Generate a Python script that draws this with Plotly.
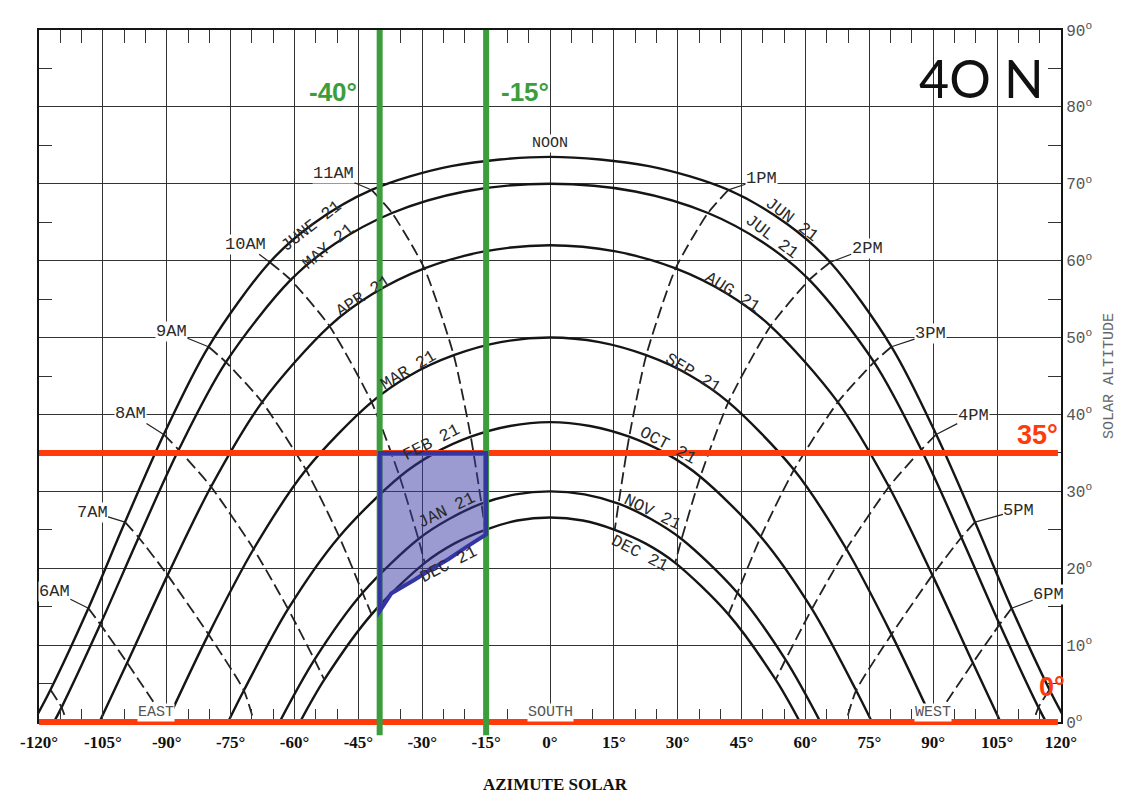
import plotly.graph_objects as go

# Sun path diagram, latitude 40 N (azimuth from south, degrees / solar altitude, degrees)

jun_az = [-121.3, -117.3, -108.4, -99.8, -90.7, -80.2, -65.8, -55.6, -41.9, -23.2, 0,
          23.2, 41.9, 55.6, 65.8, 80.2, 90.7, 99.8, 108.4, 117.3, 121.3]
jun_alt = [0, 4.2, 14.8, 26.0, 37.4, 48.8, 59.8, 64.8, 69.2, 72.3, 73.5,
           72.3, 69.2, 64.8, 59.8, 48.8, 37.4, 26.0, 14.8, 4.2, 0]

may_az = [-116.5, -114.7, -105.6, -96.6, -87.2, -76.1, -60.9, -50.5, -37.1, -20.0, 0,
          20.0, 37.1, 50.5, 60.9, 76.1, 87.2, 96.6, 105.6, 114.7, 116.5]
may_alt = [0, 1.9, 12.7, 24.0, 35.4, 46.8, 57.5, 62.2, 66.2, 69.0, 70.0,
           69.0, 66.2, 62.2, 57.5, 46.8, 35.4, 24.0, 12.7, 1.9, 0]

apr_az = [-105.8, -99.3, -89.8, -79.6, -67.6, -51.8, -41.6, -29.5, -15.4, 0,
          15.4, 29.5, 41.6, 51.8, 67.6, 79.6, 89.8, 99.3, 105.8]
apr_alt = [0, 7.7, 19.1, 30.6, 41.6, 51.5, 55.7, 59.0, 61.2, 62.0,
           61.2, 59.0, 55.7, 51.5, 41.6, 30.6, 19.1, 7.7, 0]

mar_az = [-90.0, -80.2, -69.6, -57.3, -41.9, -32.8, -22.6, -11.6, 0,
          11.6, 22.6, 32.8, 41.9, 57.3, 69.6, 80.2, 90.0]
mar_alt = [0, 11.4, 22.5, 32.8, 41.6, 45.1, 47.7, 49.4, 50.0,
           49.4, 47.7, 45.1, 41.6, 32.8, 22.5, 11.4, 0]

feb_az = [-75.6, -71.9, -61.5, -49.5, -35.3, -27.3, -18.6, -9.4, 0,
          9.4, 18.6, 27.3, 35.3, 49.5, 61.5, 71.9, 75.6]
feb_alt = [0, 4.1, 14.7, 24.1, 31.9, 34.9, 37.1, 38.5, 39.0,
           38.5, 37.1, 34.9, 31.9, 24.1, 14.7, 4.1, 0]

jan_az = [-63.5, -55.3, -44.0, -30.9, -23.7, -16.1, -8.1, 0,
          8.1, 16.1, 23.7, 30.9, 44.0, 55.3, 63.5]
jan_alt = [0, 8.1, 16.8, 23.8, 26.4, 28.4, 29.6, 30.0,
           29.6, 28.4, 26.4, 23.8, 16.8, 8.1, 0]

dec_az = [-58.7, -53.0, -41.9, -29.4, -22.5, -15.2, -7.7, 0,
          7.7, 15.2, 22.5, 29.4, 41.9, 53.0, 58.7]
dec_alt = [0, 5.5, 14.0, 20.7, 23.2, 25.0, 26.2, 26.6,
           26.2, 25.0, 23.2, 20.7, 14.0, 5.5, 0]

# hour lines (June -> December)
h5am_az = [-117.3, -114.7, -113.5]
h5am_alt = [4.2, 1.9, 0]
h6am_az = [-108.4, -105.6, -99.3, -90.0]
h6am_alt = [14.8, 12.7, 7.7, 0]
h7am_az = [-99.8, -96.6, -89.8, -80.2, -71.9, -69.5]
h7am_alt = [26.0, 24.0, 19.1, 11.4, 4.1, 0]
h8am_az = [-90.7, -87.2, -79.6, -69.6, -61.5, -55.3, -53.0]
h8am_alt = [37.4, 35.4, 30.6, 22.5, 14.7, 8.1, 5.5]
h9am_az = [-80.2, -76.1, -67.6, -57.3, -49.5, -44.0, -41.9]
h9am_alt = [48.8, 46.8, 41.6, 32.8, 24.1, 16.8, 14.0]
h10am_az = [-65.8, -60.9, -51.8, -41.9, -35.3, -30.9, -29.4]
h10am_alt = [59.8, 57.5, 51.5, 41.6, 31.9, 23.8, 20.7]
h11am_az = [-41.9, -37.1, -29.5, -22.6, -18.6, -16.1, -15.2]
h11am_alt = [69.2, 66.2, 59.0, 47.7, 37.1, 28.4, 25.0]
h1pm_az = [41.9, 37.1, 29.5, 22.6, 18.6, 16.1, 15.2]
h1pm_alt = [69.2, 66.2, 59.0, 47.7, 37.1, 28.4, 25.0]
h2pm_az = [65.8, 60.9, 51.8, 41.9, 35.3, 30.9, 29.4]
h2pm_alt = [59.8, 57.5, 51.5, 41.6, 31.9, 23.8, 20.7]
h3pm_az = [80.2, 76.1, 67.6, 57.3, 49.5, 44.0, 41.9]
h3pm_alt = [48.8, 46.8, 41.6, 32.8, 24.1, 16.8, 14.0]
h4pm_az = [90.7, 87.2, 79.6, 69.6, 61.5, 55.3, 53.0]
h4pm_alt = [37.4, 35.4, 30.6, 22.5, 14.7, 8.1, 5.5]
h5pm_az = [99.8, 96.6, 89.8, 80.2, 71.9, 69.5]
h5pm_alt = [26.0, 24.0, 19.1, 11.4, 4.1, 0]
h6pm_az = [108.4, 105.6, 99.3, 90.0]
h6pm_alt = [14.8, 12.7, 7.7, 0]
h7pm_az = [117.3, 114.7, 113.5]
h7pm_alt = [4.2, 1.9, 0]

# shading window
green_az = [-40, -15]
red_alt = [35, 0]
poly_az = [-40, -15, -15, -19.5, -23.8, -27.8, -31.8, -37.3, -40]
poly_alt = [35, 35, 24.4, 22.8, 21.2, 19.9, 18.5, 16.7, 14.4]

x_ticks = list(range(-120, 121, 15))
y_ticks = list(range(0, 91, 10))
y_range = [0, 90]

MONO = "Liberation Mono, Courier New, monospace"
SERIF = "Liberation Serif, Times New Roman, serif"
SANS = "Liberation Sans, Arial, sans-serif"
INK = "#151515"
GREEN = "#3c9d3c"
RED = "#ff3b0c"

fig = go.Figure()

date_curves = [(jun_az, jun_alt), (may_az, may_alt), (apr_az, apr_alt), (mar_az, mar_alt),
               (feb_az, feb_alt), (jan_az, jan_alt), (dec_az, dec_alt)]
for az, alt in date_curves:
    fig.add_trace(go.Scatter(x=az, y=alt, mode="lines", hoverinfo="skip", showlegend=False,
                             line=dict(color=INK, width=2.4, shape="spline", smoothing=0.9)))

hour_lines = [(h5am_az, h5am_alt), (h6am_az, h6am_alt), (h7am_az, h7am_alt), (h8am_az, h8am_alt),
              (h9am_az, h9am_alt), (h10am_az, h10am_alt), (h11am_az, h11am_alt),
              (h1pm_az, h1pm_alt), (h2pm_az, h2pm_alt), (h3pm_az, h3pm_alt), (h4pm_az, h4pm_alt),
              (h5pm_az, h5pm_alt), (h6pm_az, h6pm_alt), (h7pm_az, h7pm_alt)]
for az, alt in hour_lines:
    fig.add_trace(go.Scatter(x=az, y=alt, mode="lines", hoverinfo="skip", showlegend=False,
                             line=dict(color="#222", width=1.8, dash="12px,5px",
                                       shape="spline", smoothing=0.6)))

# hour labels with short leaders to the June curve
hour_labels = [("6AM", h6am_az, h6am_alt, -34, -17), ("7AM", h7am_az, h7am_alt, -33, -10),
               ("8AM", h8am_az, h8am_alt, -33, -21), ("9AM", h9am_az, h9am_alt, -37, -15),
               ("10AM", h10am_az, h10am_alt, -24, -18), ("11AM", h11am_az, h11am_alt, -38, -16),
               ("1PM", h1pm_az, h1pm_alt, 33, -11), ("2PM", h2pm_az, h2pm_alt, 37, -14),
               ("3PM", h3pm_az, h3pm_alt, 39, -13), ("4PM", h4pm_az, h4pm_alt, 37, -19),
               ("5PM", h5pm_az, h5pm_alt, 44, -12), ("6PM", h6pm_az, h6pm_alt, 37, -14)]
for text, az, alt, dx, dy in hour_labels:
    fig.add_annotation(x=az[0], y=alt[0], ax=dx, ay=dy, text=text, showarrow=True,
                       arrowhead=0, arrowwidth=1.2, arrowcolor="#222", standoff=0,
                       bgcolor="white", borderpad=0,
                       font=dict(family=MONO, size=17, color="#2a2a2a"))

# date labels along the curves
date_labels = [("JUNE 21", -56.1, 64.4, -38), ("MAY 21", -52.0, 61.8, -40),
               ("APR 21", -43.9, 55.3, -33), ("MAR 21", -33.3, 45.7, -31),
               ("FEB 21", -27.8, 36.3, -27), ("JAN 21", -24.3, 27.5, -26),
               ("DEC 21", -23.8, 20.5, -27),
               ("JUN 21", 56.6, 65.3, 37), ("JUL 21", 51.9, 63.1, 37),
               ("AUG 21", 42.9, 55.9, 32), ("SEP 21", 33.5, 45.3, 31),
               ("OCT 21", 27.6, 35.9, 28), ("NOV 21", 24.1, 27.3, 26),
               ("DEC 21", 21.0, 21.9, 27)]
for text, az, alt, ang in date_labels:
    fig.add_annotation(x=az, y=alt, text=text, showarrow=False, textangle=ang,
                       font=dict(family=MONO, size=17, color="#2a2a2a"))

for text, az in [("EAST", -92.5), ("SOUTH", 0), ("WEST", 90)]:
    fig.add_annotation(x=az, y=1.2, text=text, showarrow=False, bgcolor="white", borderpad=0,
                       font=dict(family=MONO, size=15, color="#555"))
fig.add_annotation(x=0, y=75.3, text="NOON", showarrow=False, bgcolor="white", borderpad=0,
                   font=dict(family=MONO, size=15, color="#2a2a2a"))

# red altitude limits (paper position so the line at 0 is not clipped), green azimuth limits
for a in red_alt:
    yp = (a - y_range[0]) / (y_range[1] - y_range[0])
    fig.add_shape(type="line", xref="paper", yref="paper", x0=0, x1=0.997, y0=yp, y1=yp,
                  line=dict(color=RED, width=6), layer="above")
for a in green_az:
    fig.add_shape(type="line", xref="x", yref="paper", x0=a, x1=a, y0=-0.019, y1=1,
                  line=dict(color=GREEN, width=6), layer="above")
path = "M " + " L ".join(f"{x},{y}" for x, y in zip(poly_az, poly_alt)) + " Z"
fig.add_shape(type="path", xref="x", yref="y", path=path, layer="above",
              fillcolor="rgba(55,55,165,0.5)", line=dict(color="#3434a2", width=4))

fig.add_annotation(x=-50.9, y=82.0, text="-40°", showarrow=False,
                   font=dict(family=SANS, size=26, color=GREEN, weight="bold"))
fig.add_annotation(x=-5.9, y=82.0, text="-15°", showarrow=False,
                   font=dict(family=SANS, size=26, color=GREEN, weight="bold"))
fig.add_annotation(x=114.4, y=37.3, text="35°", showarrow=False,
                   font=dict(family=SANS, size=27, color=RED, weight="bold"))
fig.add_annotation(x=117.9, y=4.5, text="0°", showarrow=False,
                   font=dict(family=SANS, size=27, color=RED, weight="bold"))

fig.add_annotation(xref="paper", yref="paper", x=0.922, y=0.93, xanchor="center",
                   yanchor="middle", text="4O N", showarrow=False,
                   font=dict(family="Lato, Noto Sans, sans-serif", size=52, color="#111"))
fig.add_annotation(xref="paper", yref="paper", x=0.505, y=-0.09, xanchor="center",
                   yanchor="middle", text="AZIMUTE SOLAR", showarrow=False,
                   font=dict(family=SERIF, size=17, color="#111", weight="bold"))
fig.add_annotation(xref="paper", yref="paper", x=1.047, y=0.5, xanchor="center",
                   yanchor="middle", text="SOLAR ALTITUDE", showarrow=False, textangle=-90,
                   font=dict(family=MONO, size=15, color="#666"))

# the page body adds an 8px margin, so the figure is 16px smaller than the window
fig.update_layout(
    width=1117, height=788, autosize=False,
    margin=dict(l=31, r=64, t=15, b=74),
    paper_bgcolor="white", plot_bgcolor="white",
    showlegend=False,
    xaxis=dict(range=[-120, 120], tickvals=x_ticks, ticktext=[f"{v}°" for v in x_ticks],
               tickfont=dict(family=SERIF, size=17, color="#111", weight="bold"),
               ticklabelstandoff=4,
               showgrid=True, gridcolor="#333", gridwidth=1.2, zeroline=False,
               showline=True, linecolor=INK, linewidth=2, mirror="allticks",
               ticks="inside", ticklen=13, tickcolor="#333",
               minor=dict(tickmode="linear", tick0=0, dtick=5, ticks="inside", ticklen=13,
                          tickcolor="#333", tickwidth=1.4, showgrid=False)),
    yaxis=dict(range=y_range, side="right", tickvals=y_ticks,
               ticktext=[f"{v}<sup>o</sup>" for v in y_ticks],
               tickfont=dict(family=MONO, size=16, color="#555"),
               showgrid=True, gridcolor="#333", gridwidth=1.2, zeroline=False,
               showline=True, linecolor=INK, linewidth=2, mirror="allticks",
               ticks="inside", ticklen=13, tickcolor="#333",
               minor=dict(tickmode="linear", tick0=0, dtick=5, ticks="inside", ticklen=13,
                          tickcolor="#333", tickwidth=1.4, showgrid=False)),
)

fig.write_html("out.html")
